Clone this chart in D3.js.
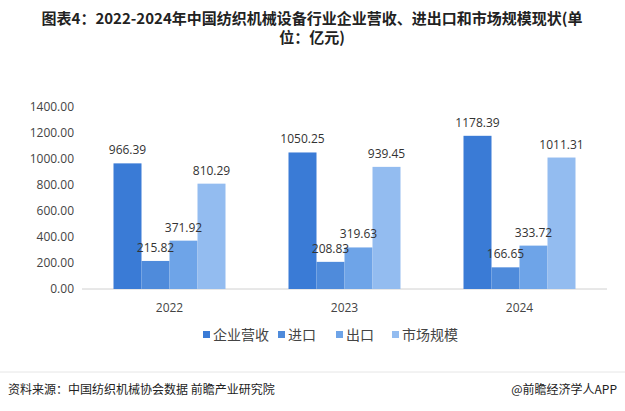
<!DOCTYPE html><html><head><meta charset="utf-8"><script src="https://cdn.jsdelivr.net/npm/d3@7"></script>
<style>body{margin:0;background:#fff}svg{font-family:"Noto Sans CJK SC","Microsoft YaHei",sans-serif}</style></head><body><svg width="625" height="411"></svg><script>
const years=["2022","2023","2024"];
const seriesNames=["企业营收","进口","出口","市场规模"];
const revenue=[966.39,1050.25,1178.39];
const imports=[215.82,208.83,166.65];
const exports=[371.92,319.63,333.72];
const market=[810.29,939.45,1011.31];
const yTicks=[0,200,400,600,800,1000,1200,1400];
const colors=["#3a7bd6","#4f8bdb","#6ea4e8","#93bcf0"];
const series=[revenue,imports,exports,market];
const svg=d3.select("svg");
svg.append("text").attr("x",312).attr("y",24).attr("text-anchor","middle").attr("font-size",15).attr("font-weight","bold").attr("fill","#222").text("图表4：2022-2024年中国纺织机械设备行业企业营收、进出口和市场规模现状(单");
svg.append("text").attr("x",312).attr("y",43).attr("text-anchor","middle").attr("font-size",15).attr("font-weight","bold").attr("fill","#222").text("位：亿元)");
const x0=d3.scaleBand().domain(years).range([82,607]).paddingInner(0.36).paddingOuter(0.18);
const x1=d3.scaleBand().domain(d3.range(4)).range([0,x0.bandwidth()]);
const y=d3.scaleLinear().domain([0,1400]).range([289,107]);
const ya=svg.append("g").attr("transform","translate(78,0)").call(d3.axisLeft(y).tickValues(yTicks).tickFormat(d3.format(".2f")).tickSize(0).tickPadding(4));
ya.select(".domain").remove();ya.selectAll("text").attr("font-size",12).attr("fill","#444").attr("font-family","Open Sans,sans-serif");
svg.append("line").attr("x1",82).attr("x2",607).attr("y1",289).attr("y2",289).attr("stroke","#d0d0d0");
const xa=svg.append("g").attr("transform","translate(0,289)").call(d3.axisBottom(x0).tickSize(0).tickPadding(14));
xa.select(".domain").remove();xa.selectAll("text").attr("font-size",12).attr("fill","#444").attr("font-family","Open Sans,sans-serif");
series.forEach((s,i)=>{
 svg.append("g").selectAll("rect").data(s).join("rect").attr("x",(d,j)=>x0(years[j])+x1(i)).attr("width",x1.bandwidth()).attr("y",d=>y(d)).attr("height",d=>289-y(d)).attr("fill",colors[i]);
});
series.forEach((s,i)=>{
 svg.append("g").selectAll("text").data(s).join("text").attr("x",(d,j)=>x0(years[j])+x1(i)+x1.bandwidth()/2).attr("y",d=>y(d)-9).attr("text-anchor","middle").attr("font-size",12).attr("fill","#333").attr("font-family","Open Sans,sans-serif").text(d=>d.toFixed(2));
});
const leg=svg.append("g");
const lx=[203,278,336,392];
seriesNames.forEach((n,i)=>{
 leg.append("rect").attr("x",lx[i]).attr("y",331).attr("width",7).attr("height",7).attr("fill",colors[i]);
 leg.append("text").attr("x",lx[i]+10).attr("y",340).attr("font-size",14).attr("fill","#444").text(n);
});
svg.append("line").attr("x1",0).attr("x2",625).attr("y1",372).attr("y2",372).attr("stroke","#e6e6e6");
svg.append("text").attr("x",8).attr("y",394).attr("font-size",12).attr("fill","#222").text("资料来源：中国纺织机械协会数据 前瞻产业研究院");
svg.append("text").attr("x",617).attr("y",394).attr("text-anchor","end").attr("font-size",12).attr("fill","#222").text("@前瞻经济学人APP");
</script></body></html>
